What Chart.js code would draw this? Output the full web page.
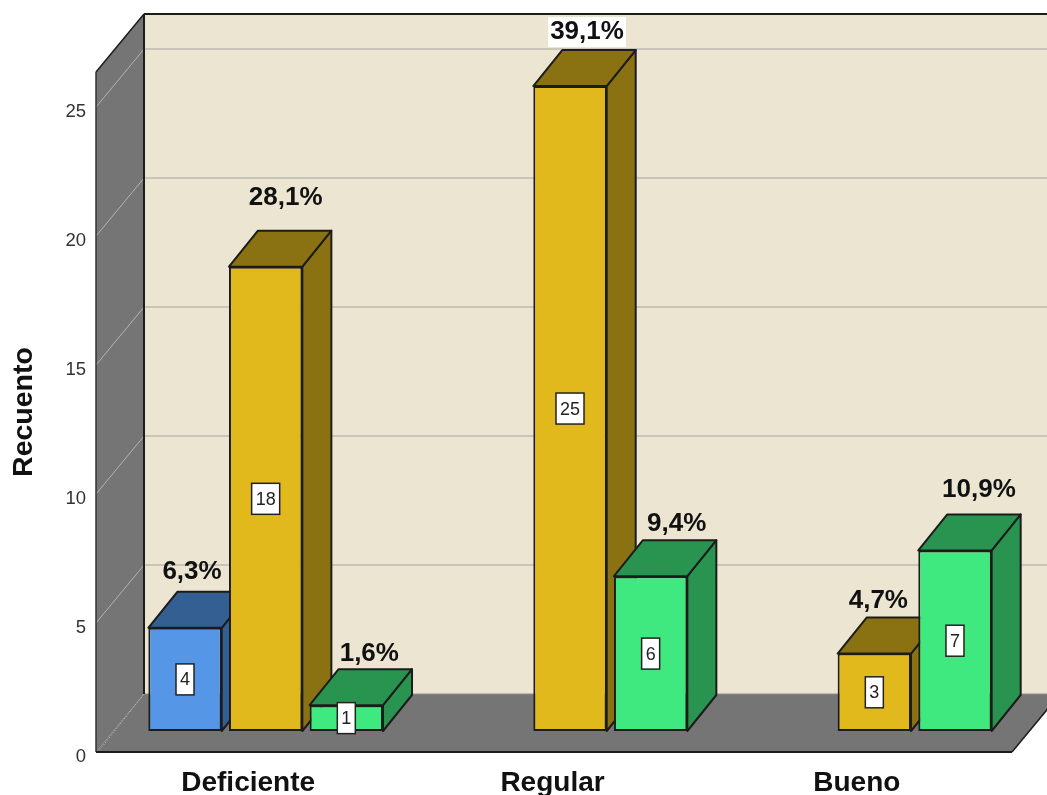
<!DOCTYPE html>
<html>
<head>
<meta charset="utf-8">
<style>
  html, body { margin: 0; padding: 0; background: #fff; overflow: hidden; }
  canvas { display: block; }
</style>
<script src="https://cdn.jsdelivr.net/npm/chart.js@4"></script>
</head>
<body>
<canvas id="chart" width="1047" height="795"></canvas>
<script>
// valores
const categories = ['Deficiente', 'Regular', 'Bueno'];
const azul = [4, null, null];
const amarillo = [18, 25, 3];
const verde = [1, 6, 7];
const pctAzul = ['6,3%', null, null];
const pctAmarillo = ['28,1%', '39,1%', '4,7%'];
const pctVerde = ['1,6%', '9,4%', '10,9%'];
const yTicks = [0, 5, 10, 15, 20, 25];

// ajuste a mano de las etiquetas de % respecto a la cara superior de la barra
const shiftAzul = [[7, 20], null, null];
const shiftAmarillo = [[20, 33], [17, 18], [4, 17]];
const shiftVerde = [[23, 15], [26, 16], [24, 25]];

// profundidad de la caja y de las barras
const box = { dx: 48, dy: 58, extra: 3 };
const barPlane = { dx: 17.5, dy: 21 };
const barDepth = { dx: 29, dy: 36 };
const edge = '#1c1c1c';

function poly(ctx, pts, fill, stroke, lw) {
    ctx.beginPath();
    pts.forEach((p, i) => i ? ctx.lineTo(p[0], p[1]) : ctx.moveTo(p[0], p[1]));
    ctx.closePath();
    if (fill) { ctx.fillStyle = fill; ctx.fill(); }
    if (stroke) { ctx.strokeStyle = stroke; ctx.lineWidth = lw || 2; ctx.lineJoin = 'round'; ctx.stroke(); }
}

function line(ctx, x1, y1, x2, y2, color, lw) {
    ctx.beginPath();
    ctx.moveTo(x1, y1);
    ctx.lineTo(x2, y2);
    ctx.strokeStyle = color;
    ctx.lineWidth = lw;
    ctx.stroke();
}

const box3d = {
    id: 'box3d',
    beforeDatasetsDraw(chart) {
        const ctx = chart.ctx;
        const { left, top, bottom } = chart.chartArea;
        const right = chart.chartArea.right + box.extra;
        const bx = left + box.dx, tx = right + box.dx;
        const by = bottom - box.dy, ty = top - box.dy;

        ctx.save();
        poly(ctx, [[bx, ty], [tx, ty], [tx, by], [bx, by]], '#ebe5d1');
        poly(ctx, [[left, top], [bx, ty], [bx, by], [left, bottom]], '#757575');
        poly(ctx, [[left, bottom], [right, bottom], [tx, by], [bx, by]], '#757575');

        // lineas de cuadricula en la pared y el lateral
        chart.scales.y.ticks.forEach(t => {
            const y = chart.scales.y.getPixelForValue(t.value);
            if (t.value > 0) {
                line(ctx, bx, y - box.dy, tx, y - box.dy, '#c9c5b9', 2);
                line(ctx, left, y, bx, y - box.dy, '#b4b4b4', 1);
            }
        });
        ctx.setLineDash([1, 2]);
        line(ctx, left + 2, bottom, bx, by, '#c4c4c4', 1);
        ctx.setLineDash([]);
        line(ctx, bx, by, tx, by, '#8f8f8b', 1);

        // bordes
        line(ctx, bx, ty, tx, ty, edge, 2);
        line(ctx, bx, ty, bx, by, edge, 2);
        line(ctx, left, top, bx, ty, edge, 1.5);
        line(ctx, left, top, left, bottom, '#333', 1.5);
        line(ctx, left, bottom, right, bottom, edge, 2);
        line(ctx, right, bottom, tx, by, edge, 1.5);
        ctx.restore();

        // las barras van en un plano a media profundidad
        ctx.save();
        ctx.translate(barPlane.dx, -barPlane.dy);

        // caras laterales y superiores, de izquierda a derecha; los frentes los pinta Chart.js encima
        chart.data.datasets.forEach((ds, di) => {
            chart.getDatasetMeta(di).data.forEach((bar, i) => {
                if (ds.data[i] == null) return;
                const { x, y, width, base } = bar.getProps(['x', 'y', 'width', 'base'], true);
                const l = x - width / 2, r = x + width / 2;
                const d = barDepth;
                poly(ctx, [[r, y], [r + d.dx, y - d.dy], [r + d.dx, base - d.dy], [r, base]], ds.sideColor, edge, 2);
                poly(ctx, [[l, y], [l + d.dx, y - d.dy], [r + d.dx, y - d.dy], [r, y]], ds.sideColor, edge, 2);
            });
        });
    },
    afterDatasetsDraw(chart) {
        const ctx = chart.ctx;
        ctx.restore();

        ctx.save();
        ctx.textAlign = 'center';
        ctx.textBaseline = 'middle';
        chart.data.datasets.forEach((ds, di) => {
            chart.getDatasetMeta(di).data.forEach((bar, i) => {
                if (ds.data[i] == null) return;
                const { x, y, base } = bar.getProps(['x', 'y', 'base'], true);
                const cx = x + barPlane.dx, top = y - barPlane.dy, bot = base - barPlane.dy;

                // recuento en cuadro blanco
                const txt = String(ds.data[i]);
                ctx.font = '18px "Liberation Sans"';
                const w = ctx.measureText(txt).width + 8, h = 31;
                const my = (top + bot) / 2;
                ctx.fillStyle = '#fff';
                ctx.fillRect(cx - w / 2, my - h / 2, w, h);
                ctx.strokeStyle = '#222';
                ctx.lineWidth = 1.5;
                ctx.strokeRect(cx - w / 2, my - h / 2, w, h);
                ctx.fillStyle = '#222';
                ctx.fillText(txt, cx, my + 1);

                // porcentaje
                const s = ds.shift[i];
                const px = cx + s[0], py = top - barDepth.dy - s[1];
                ctx.font = 'bold 26px "Liberation Sans"';
                if (ds.pct[i] === '39,1%') {
                    const tw = ctx.measureText(ds.pct[i]).width + 4;
                    ctx.fillStyle = '#fff';
                    ctx.fillRect(px - tw / 2, py - 15, tw, 30);
                }
                ctx.fillStyle = '#111';
                ctx.fillText(ds.pct[i], px, py);
            });
        });
        ctx.restore();
    }
};

function makeSet(label, data, pct, shift, color, sideColor) {
    return {
        label: label,
        data: data,
        pct: pct,
        shift: shift,
        backgroundColor: color,
        sideColor: sideColor,
        borderColor: edge,
        borderWidth: 2,
        borderSkipped: false,
        clip: false,
        categoryPercentage: 0.795,
        barPercentage: 0.91
    };
}

new Chart(document.getElementById('chart'), {
    type: 'bar',
    data: {
        labels: categories,
        datasets: [
            makeSet('Azul', azul, pctAzul, shiftAzul, '#5596e6', '#345f92'),
            makeSet('Amarillo', amarillo, pctAmarillo, shiftAmarillo, '#e2b91c', '#8a7212'),
            makeSet('Verde', verde, pctVerde, shiftVerde, '#3fe97f', '#28944f')
        ]
    },
    options: {
        responsive: false,
        animation: false,
        layout: { padding: { top: 72, right: 38, left: 0, bottom: 0 } },
        plugins: { legend: { display: false }, tooltip: { enabled: false } },
        scales: {
            x: {
                afterFit(axis) { axis.height = 43; },
                grid: { display: false, drawTicks: false },
                border: { display: false },
                ticks: {
                    color: '#111',
                    font: { family: '"Liberation Sans"', size: 28, weight: 'bold' },
                    padding: 14,
                    maxRotation: 0,
                    autoSkip: false
                }
            },
            y: {
                min: 0,
                max: 26.36,
                afterFit(axis) { axis.width = 96; },
                afterBuildTicks(axis) { axis.ticks = yTicks.map(v => ({ value: v })); },
                grid: { display: false, drawTicks: false },
                border: { display: false },
                title: {
                    display: true,
                    text: 'Recuento',
                    color: '#111',
                    font: { family: '"Liberation Sans"', size: 28.5, weight: 'bold' },
                    padding: { top: 7, bottom: 0 }
                },
                ticks: {
                    color: '#333',
                    font: { family: '"Liberation Sans"', size: 18.5 },
                    padding: 10,
                    labelOffset: 5
                }
            }
        }
    },
    plugins: [box3d]
});
</script>
</body>
</html>
